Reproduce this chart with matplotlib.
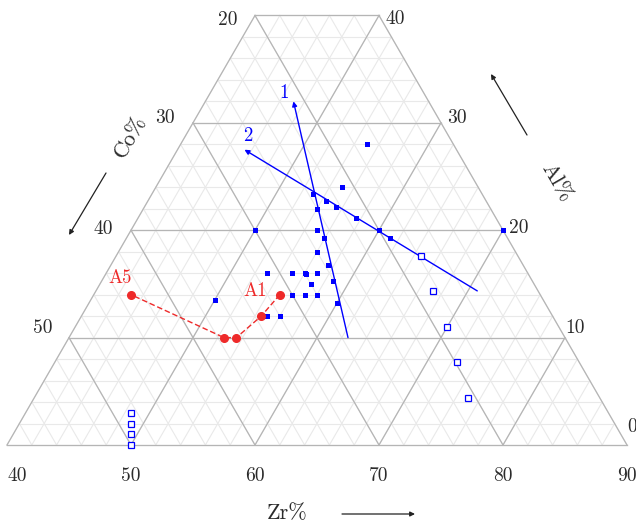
import numpy as np
import matplotlib
matplotlib.use('Agg')
import matplotlib.pyplot as plt

plt.rcParams['font.family'] = 'cmr10'
plt.rcParams['axes.formatter.use_mathtext'] = True

# compositions in at.% (Zr, Al); Co = 100 - Zr - Al
blue_zr = [55, 55, 53, 54.4, 55.4, 54, 57.6, 50, 55, 60, 55.9, 61.2, 70, 56, 57.5,
           53, 55, 56, 56.2, 57, 57, 58.6, 50, 56, 57, 58, 60, 55, 56]
blue_al = [28, 24, 23.4, 22.7, 22.2, 22, 21.1, 20, 20, 20, 19.3, 19.3, 20, 18, 16.8,
           16, 16, 16, 15.9, 16, 15, 15.3, 13.5, 14, 14, 14, 13.2, 12, 12]

open_zr = [64.6, 67.2, 70, 72.4, 75, 48.5, 49, 49.5, 50]
open_al = [17.6, 14.3, 11, 7.7, 4.4, 3, 2, 1, 0]

red_zr = [55, 54.5, 53.5, 52.5, 43]
red_al = [14, 12, 10, 10, 14]
red_names = ['A1', 'A5']

line1_zr = [62.5, 47.1]
line1_al = [10, 32]
line2_zr = [70.75, 45.4]
line2_al = [14.35, 27.5]

zr_ticks = [40, 50, 60, 70, 80, 90]
al_ticks = [0, 10, 20, 30, 40]
co_ticks = [20, 30, 40, 50]

S3 = np.sqrt(3) / 2


def tern(zr, al):
    zr = np.asarray(zr, float)
    al = np.asarray(al, float)
    return zr + al / 2, al * S3


fig = plt.figure(figsize=(6.36, 5.25), dpi=100)
ax = fig.add_axes([0, 0, 1, 1])
ax.set_xlim(40 - 7 / 12.4, 40 + 629 / 12.4)
ax.set_ylim(-80 / 12.4, 445 / 12.4)
ax.axis('off')


def grid(step, color, lw, z):
    for a in np.arange(0, 40.01, step):
        x, y = tern([40, 90 - a], [a, a])
        ax.plot(x, y, color=color, lw=lw, zorder=z)
    for zr in np.arange(40, 90.01, step):
        top = min(40, 90 - zr)
        x, y = tern([zr, zr], [0, top])
        ax.plot(x, y, color=color, lw=lw, zorder=z)
    for co in np.arange(10, 60.01, step):
        top = min(40, 60 - co)
        x, y = tern([100 - co, 100 - co - top], [0, top])
        ax.plot(x, y, color=color, lw=lw, zorder=z)


grid(2, '#e9e9e9', 0.8, 1)
grid(10, '#b5b5b5', 0.9, 2)

tc = '#2b2b2b'
fs = 14
fs_lab = 16
fs_ann = 13.5

# tick labels
for zr in zr_ticks:
    x, y = tern(zr, 0)
    ax.annotate(str(zr), (x, y), xytext=(0, -31), textcoords='offset pixels',
                ha='left' if zr == 40 else 'center', va='center', fontsize=fs, color=tc)

al_off = {40: (6, -3.5), 30: (6, 5), 20: (6, 2.5), 10: (0, 10), 0: (0, 18)}
for a in al_ticks:
    x, y = tern(90 - a, a)
    ax.annotate(str(a), (x, y), xytext=al_off[a], textcoords='offset pixels',
                ha='left', va='center', fontsize=fs, color=tc)

co_off = {20: (-18, -4.5), 30: (-18, 5), 40: (-18, 1), 50: (-17, 10)}
for c in co_ticks:
    x, y = tern(40, 60 - c)
    ax.annotate(str(c), (x, y), xytext=co_off[c], textcoords='offset pixels',
                ha='right', va='center', fontsize=fs, color=tc)


# axis titles with arrows
def px(xp, yp):
    return 40 + (xp - 7) / 12.4, (445 - yp) / 12.4


arr = dict(arrowstyle='-|>', color='#222222', lw=0.9, mutation_scale=7, shrinkA=0, shrinkB=0)
ax.text(*px(287, 513), 'Zr%', fontsize=fs_lab, color=tc, ha='center', va='center')
ax.annotate('', xy=px(415, 514), xytext=px(342, 514), arrowprops=arr)
ax.text(*px(130, 137), 'Co%', fontsize=fs_lab, color=tc, ha='center', va='center', rotation=60)
ax.annotate('', xy=px(69, 235), xytext=px(106, 173), arrowprops=arr)
ax.text(*px(556, 183), 'Al%', fontsize=fs_lab, color=tc, ha='center', va='center', rotation=-60)
ax.annotate('', xy=px(491, 74), xytext=px(527, 135), arrowprops=arr)

# blue trend lines
blue = '#0000ff'
barr = dict(arrowstyle='-|>', color=blue, lw=1.0, mutation_scale=7, shrinkA=0, shrinkB=0)
for lz, la, name, off in [(line1_zr, line1_al, '1', (-9, 8)), (line2_zr, line2_al, '2', (3, 14))]:
    x, y = tern(lz, la)
    ax.annotate('', xy=(x[1], y[1]), xytext=(x[0], y[0]), arrowprops=barr, zorder=4)
    ax.annotate(name, (x[1], y[1]), xytext=off, textcoords='offset pixels',
                ha='center', va='center', fontsize=fs_ann, color=blue)

x, y = tern(blue_zr, blue_al)
ax.plot(x, y, 's', color=blue, ms=3.6, mew=0, zorder=5)
x, y = tern(open_zr, open_al)
ax.plot(x, y, 's', mfc='white', mec=blue, ms=4.2, mew=0.9, zorder=5)

red = '#ee2a2a'
x, y = tern(red_zr, red_al)
ax.plot(x, y, '--', color=red, lw=1.0, dashes=(4, 2), zorder=5)
ax.plot(x, y, 'o', color=red, ms=5.5, zorder=6)
ax.annotate(red_names[0], (x[0], y[0]), xytext=(-25, 4), textcoords='offset pixels',
            ha='center', va='center', fontsize=fs_ann, color=red)
ax.annotate(red_names[1], (x[-1], y[-1]), xytext=(-10.5, 16.5), textcoords='offset pixels',
            ha='center', va='center', fontsize=fs_ann, color=red)

fig.savefig('out.png', dpi=100)
